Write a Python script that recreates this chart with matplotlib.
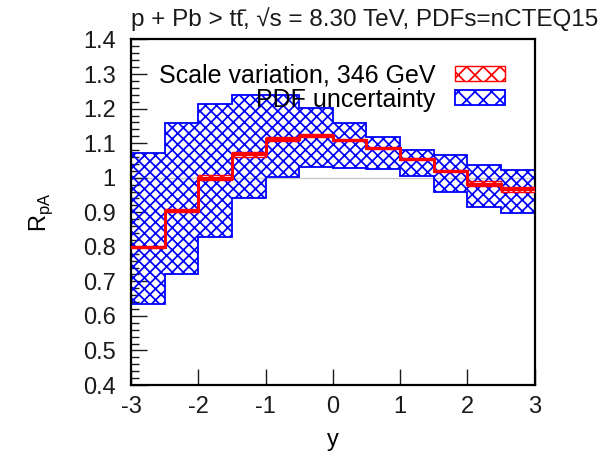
import numpy as np
import matplotlib.pyplot as plt
import matplotlib.patches as mpatches
from matplotlib.ticker import MultipleLocator

plt.rcParams['font.family'] = ['Liberation Sans', 'DejaVu Sans']
plt.rcParams['hatch.linewidth'] = 1.25
plt.rcParams['axes.unicode_minus'] = False

# rapidity bins
edges = [-3.0, -2.5, -2.0, -1.5, -1.0, -0.5, 0.0, 0.5, 1.0, 1.5, 2.0, 2.5, 3.0]
# central value and scale variation band
central = [0.800, 0.905, 1.000, 1.068, 1.113, 1.122, 1.109, 1.085, 1.054, 1.020, 0.983, 0.966]
scale_lo = [0.797, 0.900, 0.993, 1.061, 1.107, 1.119, 1.106, 1.082, 1.051, 1.017, 0.976, 0.959]
scale_hi = [0.803, 0.909, 1.008, 1.075, 1.119, 1.126, 1.112, 1.088, 1.057, 1.023, 0.990, 0.974]
# PDF uncertainty band
pdf_lo = [0.634, 0.720, 0.829, 0.940, 1.001, 1.030, 1.027, 1.024, 1.005, 0.960, 0.916, 0.897]
pdf_hi = [1.072, 1.157, 1.213, 1.238, 1.238, 1.201, 1.157, 1.119, 1.080, 1.066, 1.037, 1.022]

title = "p + Pb > t\u0074\u0304, \u221as = 8.30 TeV, PDFs=nCTEQ15"

fig = plt.figure(figsize=(6.1, 4.61), dpi=100)
ax = fig.add_axes([131 / 610, 1 - 385 / 461, (534.5 - 131) / 610, (385 - 39.5) / 461])

ax.axhline(1.0, color='#c8c8c8', lw=1.0, zorder=1)

ax.stairs(pdf_hi, edges, baseline=pdf_lo, fill=True, facecolor='none',
          edgecolor='blue', hatch='xxx', lw=1.3, zorder=2)
ax.stairs(scale_hi, edges, baseline=scale_lo, fill=True, facecolor='white',
          edgecolor='red', hatch='xxx', lw=1.0, zorder=3)
ax.stairs(central, edges, baseline=None, color='red', lw=2.2, zorder=4)

ax.set_xlim(-3, 3)
ax.set_ylim(0.4, 1.4)
ax.xaxis.set_major_locator(MultipleLocator(1))
ax.yaxis.set_major_locator(MultipleLocator(0.1))
ax.yaxis.set_minor_locator(MultipleLocator(0.02))
ax.set_yticklabels([f"{v:g}" for v in np.round(ax.get_yticks(), 2)])
ax.tick_params(which='both', direction='in', top=False, right=False, width=1.0,
               labelsize=17, colors='#1a1a1a')
ax.tick_params(which='major', length=11.5)
ax.tick_params(axis='y', which='major', pad=11)
ax.tick_params(axis='x', which='major', pad=8)
ax.tick_params(which='minor', length=5.8)
for s in ax.spines.values():
    s.set_linewidth(1.6)

ax.set_xlabel('y', fontsize=17, labelpad=8)
ax.set_ylabel(r'R$_{\mathregular{pA}}$', fontsize=17, labelpad=20)
fig.text(131 / 610, 1 - 19 / 461, title, fontsize=17.5, ha='left', va='center',
         color='#1a1a1a')

h_scale = mpatches.Patch(facecolor='white', edgecolor='red', hatch='xx', lw=1.0)
h_pdf = mpatches.Patch(facecolor='white', edgecolor='blue', hatch='xx', lw=1.3)
ax.legend([h_scale, h_pdf], ['Scale variation, 346 GeV', 'PDF uncertainty'],
          loc='upper right', bbox_to_anchor=(1 - 30 / 403.5, 1 - 24 / 345.5),
          frameon=False, fontsize=18, markerfirst=False, borderpad=0,
          borderaxespad=0, handlelength=2.0, handleheight=0.55,
          handletextpad=0.75, labelspacing=0.0)

fig.savefig('out.png', dpi=100)
